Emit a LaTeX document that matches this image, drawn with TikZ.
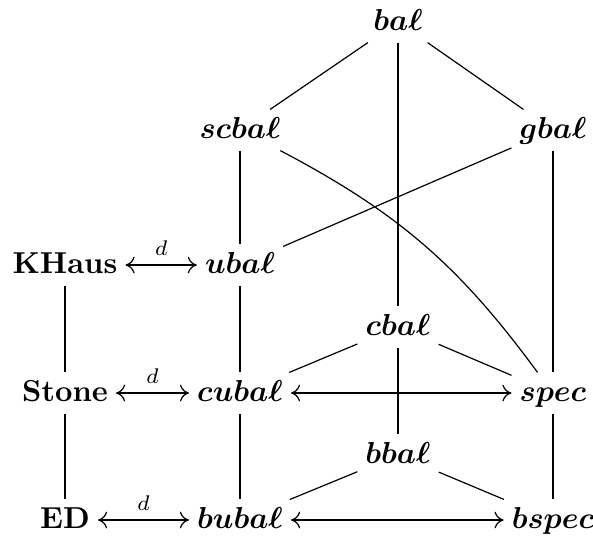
\documentclass[tikz,border=0pt]{standalone}
\usepackage{amsmath,bm}
\usetikzlibrary{arrows.meta}
\begin{document}
\begin{tikzpicture}[x=0.33pt,y=-0.33pt,
  >={To[length=3pt,width=5.5pt]},
  obj/.style={inner sep=2.5pt, text height=1.6ex, text depth=0.3ex},
  lab/.style={font=\scriptsize, inner sep=3pt},
  every path/.style={line width=0.4pt}]
\useasboundingbox (0,0) rectangle (593,538);
\node[obj] (bal) at (398,22) {$\bm{ba\ell}$};
\node[obj] (scbal) at (240,130) {$\bm{scba\ell}$};
\node[obj] (gbal) at (553,130) {$\bm{gba\ell}$};
\node[obj] (KHaus) at (65,265) {\textbf{KHaus}};
\node[obj] (ubal) at (240,265) {$\bm{uba\ell}$};
\node[obj] (cbal) at (398,327) {$\bm{cba\ell}$};
\node[obj] (Stone) at (65,393) {\textbf{Stone}};
\node[obj] (cubal) at (240,393) {$\bm{cuba\ell}$};
\node[obj] (spec) at (553,393) {$\bm{spec}$};
\node[obj] (bbal) at (398,455) {$\bm{bba\ell}$};
\node[obj] (ED) at (65,520) {\textbf{ED}};
\node[obj] (bubal) at (240,520) {$\bm{buba\ell}$};
\node[obj] (bspec) at (553,520) {$\bm{bspec}$};
\draw (bal) -- (scbal);
\draw (bal) -- (gbal);
\draw (bal) -- (cbal);
\draw (cbal) -- (bbal);
\draw (scbal) -- (ubal);
\draw (gbal) -- (ubal);
\draw (gbal) -- (spec);
\draw (scbal) to[bend left=13] (spec);
\draw (KHaus) -- (Stone);
\draw (Stone) -- (ED);
\draw (ubal) -- (cubal);
\draw (cubal) -- (bubal);
\draw (cbal) -- (cubal);
\draw (cbal) -- (spec);
\draw (spec) -- (bspec);
\draw (bbal) -- (bubal);
\draw (bbal) -- (bspec);
\draw[<->] (KHaus) -- node[above,lab] {$d$} (ubal);
\draw[<->] (Stone) -- node[above,lab] {$d$} (cubal);
\draw[<->] (ED) -- node[above,lab] {$d$} (bubal);
\draw[<->] (cubal) -- (spec);
\draw[<->] (bubal) -- (bspec);
\end{tikzpicture}
\end{document}
